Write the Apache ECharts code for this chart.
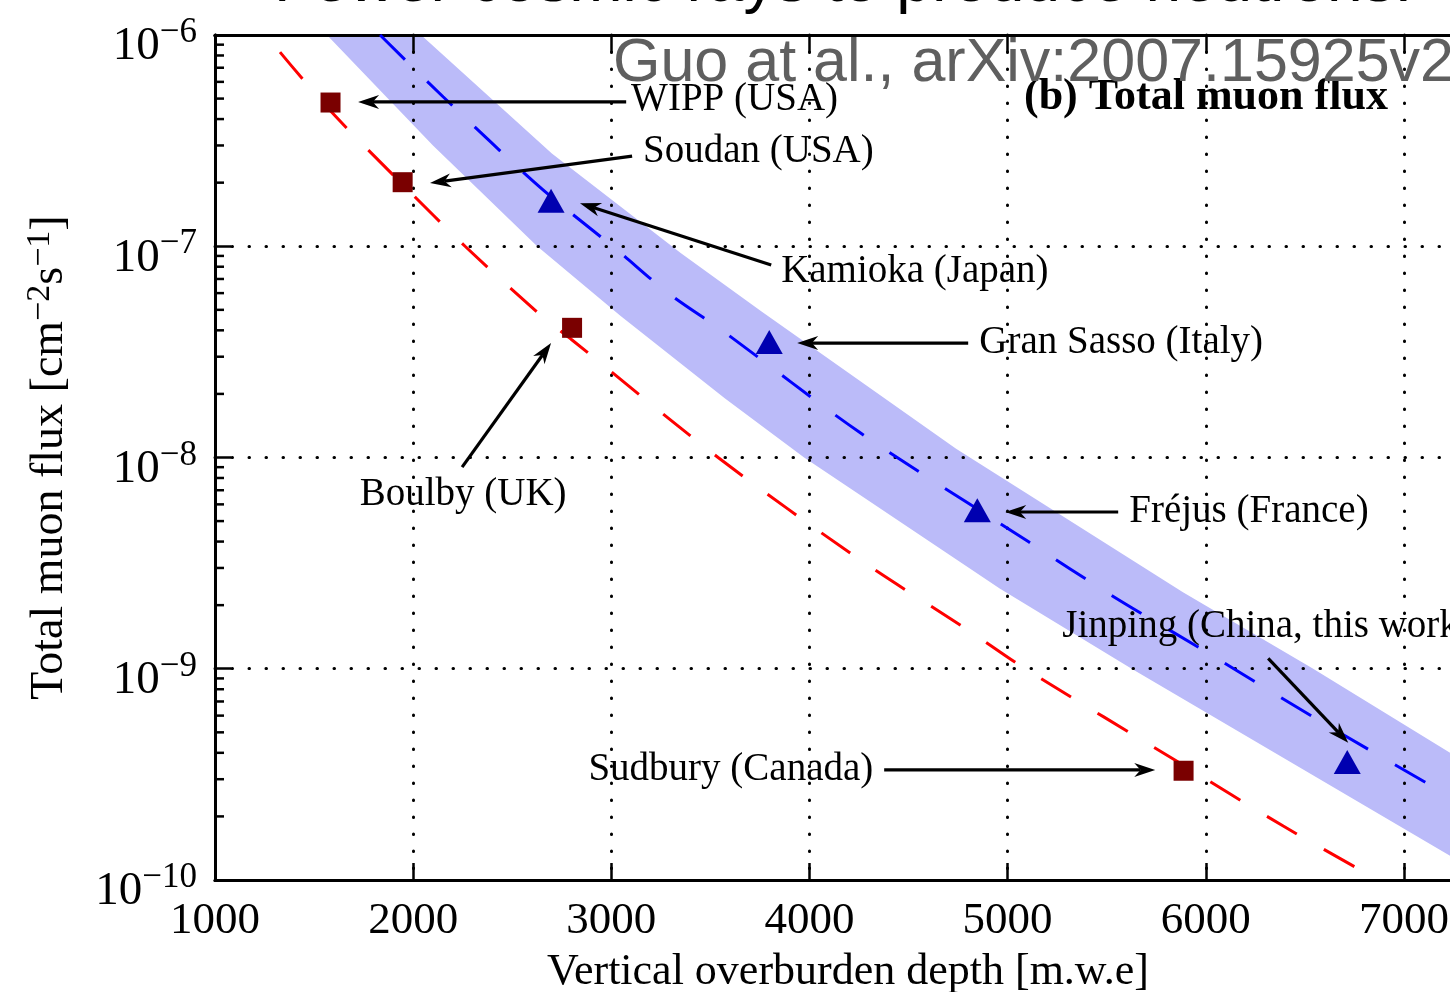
<!DOCTYPE html>
<html>
<head>
<meta charset="utf-8">
<title>Total muon flux vs vertical overburden depth</title>
<script src="https://cdn.jsdelivr.net/npm/echarts@6/dist/echarts.min.js"></script>
<style>
  html, body { margin: 0; padding: 0; background: #ffffff; }
  #chart { width: 1450px; height: 992px; }
</style>
</head>
<body>
<div id="chart"></div>
<script>
// ---- axes ----
const depthMin = 1000;
const depthMax = 7500;
const depthStep = 1000;
const depthTickValues = [1000, 2000, 3000, 4000, 5000, 6000, 7000];
const depthTickLabels = ['1000', '2000', '3000', '4000', '5000', '6000', '7000'];
const fluxMin = 1e-10;
const fluxMax = 1e-6;
const fluxTickExponents = ['−10', '−9', '−8', '−7', '−6'];
const fluxTickValues = [1e-10, 1e-9, 1e-8, 1e-7, 1e-6];
const minorDecades = [1e-10, 1e-9, 1e-8, 1e-7];
const minorMultipliers = [2, 3, 4, 5, 6, 7, 8, 9];

// ---- laboratories, measured total muon flux ----
const squareSites = ['WIPP', 'Soudan', 'Boulby', 'Sudbury'];
const squareDepth = [1583, 1947, 2802, 5888];
const squareFlux = [4.79e-7, 2.01e-7, 4.11e-8, 3.29e-10];

const triangleSites = ['Kamioka', 'Gran Sasso', 'Fréjus', 'Jinping'];
const triangleDepth = [2696, 3797, 4847, 6714];
const triangleFlux = [1.64e-7, 3.52e-8, 5.63e-9, 3.62e-10];

// ---- fitted curves (flat overburden, red) and (mountain, blue) ----
const redDepth = [1328, 1580, 1949, 2262, 2646, 2802, 3539, 4251, 4811, 5089, 5886, 6391, 6871];
const redFlux = [8.3e-7, 4.4e-7, 1.95e-7, 1.0e-7, 4.7e-8, 3.6e-8, 1.0e-8, 3.3e-9, 1.5e-9, 1.0e-9, 3.5e-10, 1.8e-10, 1.0e-10];

const blueDepth = [1833, 2151, 2641, 3029, 3287, 3574, 4251, 5104, 5533, 5972, 6543, 7123, 7234];
const blueFlux = [1.0e-6, 5.1e-7, 1.9e-7, 9.6e-8, 6.0e-8, 3.9e-8, 1.32e-8, 4.0e-9, 2.2e-9, 1.25e-9, 5.9e-10, 2.85e-10, 2.5e-10];

// uncertainty band around the blue curve
const bandUpperDepth = [2040, 2700, 3350, 3760, 4740, 5885, 6542, 7234];
const bandUpperFlux = [1.0e-6, 2.75e-7, 9.3e-8, 4.9e-8, 1.1e-8, 2.3e-9, 1.0e-9, 4.0e-10];
const bandLowerDepth = [1565, 2100, 2626, 3044, 3574, 3973, 4960, 5626, 6002, 7234];
const bandLowerFlux = [1.0e-6, 3.0e-7, 1.0e-7, 4.7e-8, 1.9e-8, 1.0e-8, 2.4e-9, 1.0e-9, 6.2e-10, 1.3e-10];

// ---- annotations: label text, label anchor, arrow tail, arrow head (data coordinates) ----
const annotationLabels = ['WIPP (USA)', 'Soudan (USA)', 'Kamioka (Japan)', 'Gran Sasso (Italy)',
  'Fréjus (France)', 'Jinping (China, this work)', 'Sudbury (Canada)', 'Boulby (UK)'];
const labelDepth = [3100, 3160, 3857, 4857, 5614, 5276, 4322, 2252];
const labelFlux = [4.92e-7, 2.79e-7, 7.55e-8, 3.48e-8, 5.52e-9, 1.58e-9, 3.32e-10, 6.64e-9];
const arrowFromDepth = [3075, 3105, 3807, 4801, 5558, 6315, 4377, 2247];
const arrowFromFlux = [4.82e-7, 2.67e-7, 8.15e-8, 3.48e-8, 5.52e-9, 1.12e-9, 3.32e-10, 9.0e-9];
const arrowToDepth = [1722, 2085, 2842, 3938, 4988, 6719, 5745, 2696];
const arrowToFlux = [4.82e-7, 1.99e-7, 1.60e-7, 3.48e-8, 5.52e-9, 4.46e-10, 3.32e-10, 3.48e-8];
const labelAlign = ['left', 'left', 'left', 'left', 'left', 'left', 'right', 'center'];

const zip = (xs, ys) => xs.map((x, i) => [x, ys[i]]);

const SERIF = '"Liberation Serif", "Times New Roman", Times, serif';
const SANS = '"Liberation Sans", Arial, Helvetica, sans-serif';

const dotted = { color: '#000', width: 3, type: [0.5, 16.5], cap: 'round' };

const chart = echarts.init(document.getElementById('chart'), null, { renderer: 'canvas' });

const option = {
  animation: false,
  backgroundColor: '#ffffff',
  title: [
    {
      text: 'Fewer cosmic rays to produce neutrons.',
      left: 274, top: -49, padding: 0,
      textStyle: { fontFamily: SANS, fontSize: 64, fontWeight: 'normal', color: '#000' }
    },
    {
      text: 'Guo at al., arXiv:2007.15925v2',
      left: 613, top: 34, padding: 0, z: 20,
      textStyle: { fontFamily: SANS, fontSize: 61, fontWeight: 'normal', color: '#5f5f5f' }
    }
  ],
  grid: { left: 215, top: 35, bottom: 112, right: -53, containLabel: false, outerBoundsMode: 'none' },
  xAxis: [
    {
      type: 'value', position: 'bottom',
      min: depthMin, max: depthMax, interval: depthStep,
      axisLine: { show: true, lineStyle: { color: '#000', width: 3 } },
      axisTick: { show: true, inside: true, length: 17, lineStyle: { color: '#000', width: 2.5 } },
      axisLabel: {
        show: true, margin: 19, fontFamily: SERIF, fontSize: 45, color: '#000', showMaxLabel: false,
        formatter: function (v) {
          const i = depthTickValues.indexOf(v);
          return i >= 0 ? depthTickLabels[i] : '';
        }
      },
      splitLine: { show: true, lineStyle: dotted },
      name: 'Vertical overburden depth [m.w.e]',
      nameLocation: 'middle', nameGap: 70,
      nameTextStyle: { fontFamily: SERIF, fontSize: 44, color: '#000', padding: [0, 22, 0, 0] }
    },
    {
      type: 'value', position: 'top',
      min: depthMin, max: depthMax, interval: depthStep,
      axisLine: { show: true, lineStyle: { color: '#000', width: 3 } },
      axisTick: { show: true, inside: true, length: 17, lineStyle: { color: '#000', width: 2.5 } },
      axisLabel: { show: false },
      splitLine: { show: false }
    }
  ],
  yAxis: {
    type: 'log', logBase: 10, min: fluxMin, max: fluxMax,
    axisLine: { show: true, lineStyle: { color: '#000', width: 3 } },
    axisTick: { show: true, inside: true, length: 16, lineStyle: { color: '#000', width: 2.5 } },
    minorTick: { show: false },
    splitLine: { show: true, lineStyle: dotted },
    axisLabel: {
      margin: 18, color: '#000',
      formatter: function (v) {
        let k = 0, best = Infinity;
        fluxTickValues.forEach(function (t, i) {
          const d = Math.abs(Math.log10(v) - Math.log10(t));
          if (d < best) { best = d; k = i; }
        });
        return '{b|10}{s|' + fluxTickExponents[k] + '}';
      },
      rich: {
        b: { fontFamily: SERIF, fontSize: 47, lineHeight: 47, color: '#000', padding: [12, 0, 0, 0], verticalAlign: 'top' },
        s: { fontFamily: SERIF, fontSize: 35, lineHeight: 35, color: '#000', padding: [4, 0, 0, 0], verticalAlign: 'top' }
      }
    },
    name: 'Total muon flux [cm{s|−2}s{s|−1}]',
    nameLocation: 'middle', nameGap: 138, nameRotate: 90,
    nameTextStyle: {
      fontFamily: SERIF, fontSize: 46, color: '#000',
      rich: {
        s: { fontFamily: SERIF, fontSize: 34, color: '#000', padding: [0, 0, 20, 0] }
      }
    }
  },
  graphic: [
    {
      type: 'text', x: 1024, y: 98, z: 20,
      style: {
        text: '(b) Total muon flux', font: 'bold 44px ' + SERIF, fill: '#000',
        align: 'left', verticalAlign: 'middle', textAlign: 'left', textVerticalAlign: 'middle'
      }
    }
  ],
  series: [
    {
      // shaded band
      type: 'custom', name: 'band', z: -1, clip: true, silent: true,
      xAxisIndex: 0, yAxisIndex: 0,
      data: [[bandUpperDepth[0], bandUpperFlux[0]]],
      renderItem: function (params, api) {
        const up = zip(bandUpperDepth, bandUpperFlux).map(p => api.coord(p));
        const lo = zip(bandLowerDepth, bandLowerFlux).map(p => api.coord(p)).reverse();
        return { type: 'polygon', shape: { points: up.concat(lo) }, style: { fill: '#bbbbf9' } };
      }
    },
    {
      type: 'line', name: 'fit (blue)', data: zip(blueDepth, blueFlux),
      showSymbol: false, symbol: 'none', smooth: 0.3, clip: true, z: 3,
      lineStyle: { color: '#0000ff', width: 3, type: [35, 31] }
    },
    {
      type: 'line', name: 'fit (red)', data: zip(redDepth, redFlux),
      showSymbol: false, symbol: 'none', smooth: 0.3, clip: true, z: 3,
      lineStyle: { color: '#ff0000', width: 3, type: [35, 31] }
    },
    {
      type: 'scatter', name: 'flat sites', data: zip(squareDepth, squareFlux),
      symbol: 'rect', symbolSize: 20, z: 4,
      itemStyle: { color: '#7a0000', opacity: 1 }
    },
    {
      type: 'scatter', name: 'mountain sites', data: zip(triangleDepth, triangleFlux),
      symbol: 'triangle', symbolSize: [27, 24], z: 4,
      itemStyle: { color: '#0000b0', opacity: 1 }
    },
    {
      // minor ticks of the logarithmic flux axis
      type: 'custom', name: 'minor ticks', z: 6, silent: true,
      data: [[depthMin, fluxMin]],
      renderItem: function (params, api) {
        const children = [];
        minorDecades.forEach(function (dec) {
          minorMultipliers.forEach(function (m) {
            const p = api.coord([depthMin, m * dec]);
            children.push({ type: 'line', shape: { x1: p[0], y1: p[1], x2: p[0] + 9, y2: p[1] },
              style: { stroke: '#000', lineWidth: 2.5 } });
          });
        });
        return { type: 'group', children: children };
      }
    },
    {
      // site labels with arrows
      type: 'custom', name: 'annotations', z: 8, silent: true, clip: false,
      data: zip(arrowToDepth, arrowToFlux),
      renderItem: function (params, api) {
        const i = params.dataIndex;
        const a = api.coord([arrowFromDepth[i], arrowFromFlux[i]]);
        const b = api.coord([arrowToDepth[i], arrowToFlux[i]]);
        const t = api.coord([labelDepth[i], labelFlux[i]]);
        const dx = b[0] - a[0], dy = b[1] - a[1];
        const len = Math.hypot(dx, dy);
        const ux = dx / len, uy = dy / len;
        const head = 21, half = 7;
        const base = [b[0] - ux * head, b[1] - uy * head];
        const notch = [b[0] - ux * head * 0.7, b[1] - uy * head * 0.7];
        const l = [base[0] - uy * half, base[1] + ux * half];
        const r = [base[0] + uy * half, base[1] - ux * half];
        return {
          type: 'group',
          children: [
            { type: 'line', shape: { x1: a[0], y1: a[1], x2: notch[0], y2: notch[1] },
              style: { stroke: '#000', lineWidth: 3.2 } },
            { type: 'polygon', shape: { points: [b, l, notch, r] }, style: { fill: '#000' } },
            { type: 'text', x: t[0], y: t[1],
              style: { text: annotationLabels[i], font: '39px ' + SERIF, fill: '#000',
                align: labelAlign[i], verticalAlign: 'middle',
                textAlign: labelAlign[i], textVerticalAlign: 'middle' } }
          ]
        };
      }
    }
  ]
};

chart.setOption(option);
</script>
</body>
</html>
